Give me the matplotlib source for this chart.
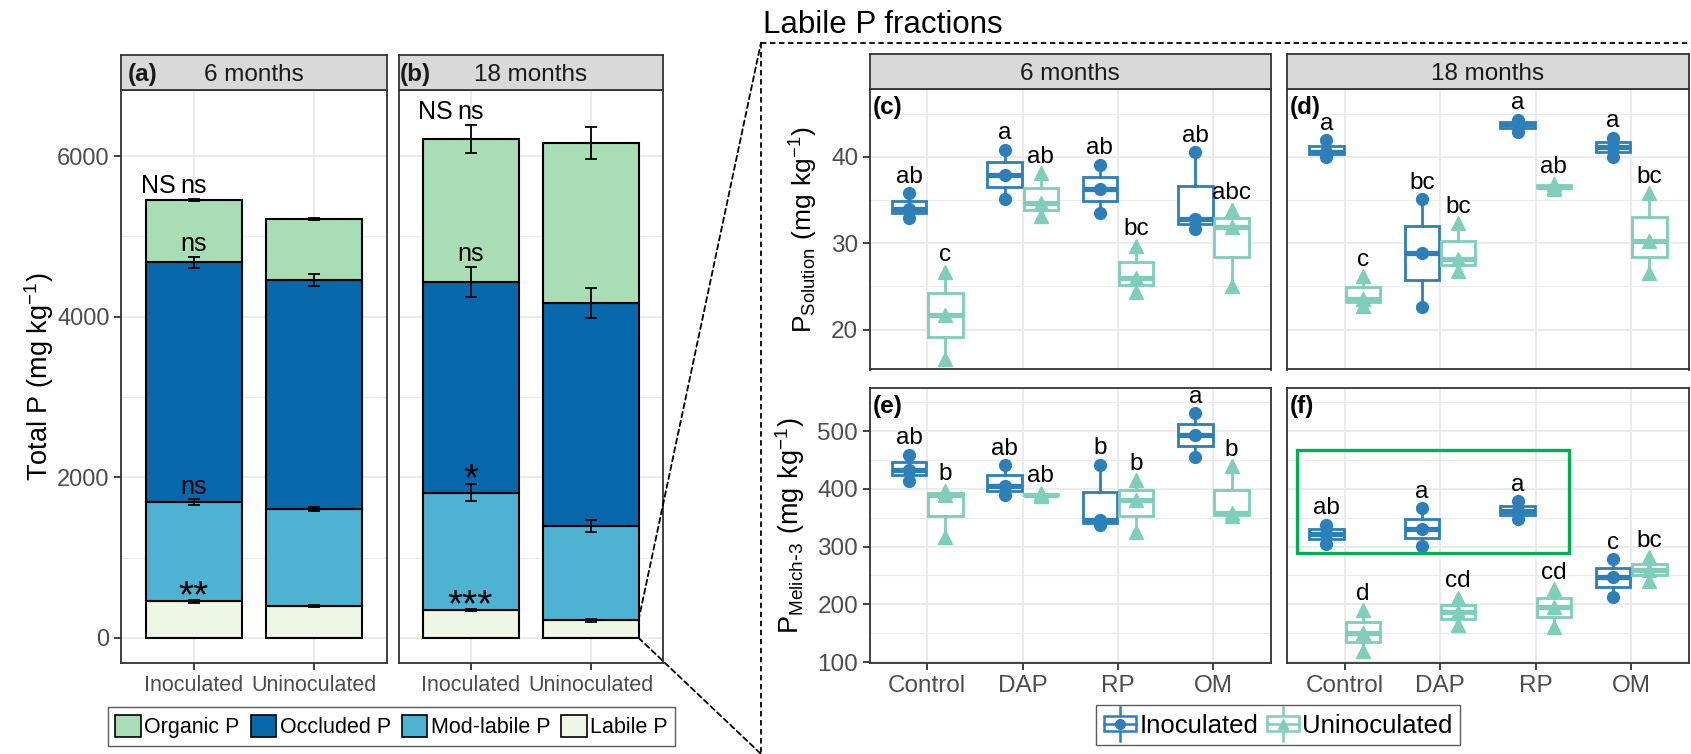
import matplotlib.pyplot as plt
from matplotlib.patches import Rectangle, Patch, ConnectionPatch
from matplotlib.lines import Line2D
from matplotlib.legend_handler import HandlerBase
from matplotlib.ticker import MultipleLocator

plt.rcParams['font.family'] = ['Liberation Sans', 'DejaVu Sans']
plt.rcParams['mathtext.default'] = 'regular'

# ---- total P fractions (mg/kg), Inoculated / Uninoculated ----
inoculation = ['Inoculated', 'Uninoculated']
fraction_names = ['Labile P', 'Mod-labile P', 'Occluded P', 'Organic P']
fraction_colors = ['#EEF7E3', '#4EB3D3', '#0868AC', '#A8DDB5']

labile_6 = [455, 395]
modlabile_6 = [1235, 1205]
occluded_6 = [2990, 2860]
organic_6 = [775, 760]
se_6 = [[15, 10], [35, 25], [70, 75], [15, 15]]
sig_6 = ['**', 'ns', 'ns', 'ns']

labile_18 = [345, 218]
modlabile_18 = [1465, 1170]
occluded_18 = [2625, 2780]
organic_18 = [1780, 1995]
se_18 = [[15, 15], [110, 75], [190, 185], [180, 200]]
sig_18 = ['***', '*', 'ns', 'ns']

# ---- labile P fractions, three replicates per treatment ----
treatments = ['Control', 'DAP', 'RP', 'OM']
sol_6_inoc = [[35.8, 34.0, 32.9], [40.8, 37.9, 35.1], [39.1, 36.3, 33.5], [40.5, 32.8, 31.6]]
sol_6_uninoc = [[26.7, 21.7, 16.6], [38.1, 34.6, 33.1], [29.7, 26.0, 24.4], [33.9, 31.9, 25.0]]
sol_18_inoc = [[41.9, 40.6, 40.0], [35.1, 28.9, 22.6], [44.3, 43.8, 42.9], [42.2, 41.1, 40.0]]
sol_18_uninoc = [[26.2, 23.6, 22.8], [32.3, 28.2, 26.8], [36.9, 36.5, 36.3], [35.8, 30.3, 26.6]]
mel_6_inoc = [[459, 433, 414], [441, 405, 389], [442, 346, 337], [531, 493, 455]]
mel_6_uninoc = [[397, 389, 316], [393, 390, 387], [415, 380, 326], [439, 358, 352]]
mel_18_inoc = [[338, 321, 304], [366, 330, 301], [378, 361, 348], [278, 248, 213]]
mel_18_uninoc = [[190, 150, 119], [211, 186, 164], [226, 195, 161], [281, 260, 240]]

let_sol_6_inoc = ['ab', 'a', 'ab', 'ab']
let_sol_6_uninoc = ['c', 'ab', 'bc', 'abc']
let_sol_18_inoc = ['a', 'bc', 'a', 'a']
let_sol_18_uninoc = ['c', 'bc', 'ab', 'bc']
let_mel_6_inoc = ['ab', 'ab', 'b', 'a']
let_mel_6_uninoc = ['b', 'ab', 'b', 'b']
let_mel_18_inoc = ['ab', 'a', 'a', 'c']
let_mel_18_uninoc = ['d', 'cd', 'cd', 'bc']

col_inoc = '#2C7FB8'
col_uninoc = '#7FCDBB'
highlight = (0.5, 288, 2.85, 179)   # x, y, width, height of the green frame in (f)

W, H = 1691, 754
fig = plt.figure(figsize=(W / 100, H / 100), dpi=100)


def add_panel(l, t, r, b):
    return fig.add_axes([l / W, 1 - b / H, (r - l) / W, (b - t) / H])


def theme_bw(ax, size=17.5):
    ax.set_facecolor('white')
    for sp in ax.spines.values():
        sp.set_color('#333333')
        sp.set_linewidth(1.3)
    ax.grid(True, which='major', color='#EBEBEB', lw=1.4)
    ax.grid(True, which='minor', axis='y', color='#EBEBEB', lw=0.8)
    ax.set_axisbelow(True)
    ax.tick_params(which='major', colors='#333333', labelcolor='#4D4D4D', length=5,
                   width=1.3, labelsize=size)
    ax.tick_params(which='minor', length=0)


def add_strip(ax, label, tag=None, tag_x=0.02):
    p = ax.get_position()
    s = fig.add_axes([p.x0, p.y1, p.width, 35 / H])
    s.set_facecolor('#D9D9D9')
    s.set_xticks([])
    s.set_yticks([])
    for sp in s.spines.values():
        sp.set_color('#333333')
        sp.set_linewidth(1.3)
    s.text(0.5, 0.45, label, ha='center', va='center', fontsize=17.5, color='#1A1A1A')
    if tag:
        s.text(tag_x, 0.45, tag, ha='left', va='center', fontsize=17.5,
               fontweight='bold', color='#1A1A1A')


# ---------------- stacked bars (a), (b) ----------------
ax_a = add_panel(121.4, 90.4, 386.6, 662.7)
ax_b = add_panel(398.5, 90.4, 662.5, 662.7)
x_bar = [1, 2]

for ax, parts, se, sig in [(ax_a, [labile_6, modlabile_6, occluded_6, organic_6], se_6, sig_6),
                           (ax_b, [labile_18, modlabile_18, occluded_18, organic_18], se_18, sig_18)]:
    theme_bw(ax, 15.5)
    ax.tick_params(axis='y', labelsize=17)
    bottom = [0, 0]
    for vals, col, err, s in zip(parts, fraction_colors, se, sig):
        ax.bar(x_bar, vals, width=0.8, bottom=bottom, color=col, edgecolor='black',
               linewidth=1.5, zorder=2)
        top = [b + v for b, v in zip(bottom, vals)]
        ax.errorbar(x_bar, top, yerr=err, fmt='none', ecolor='black', elinewidth=1.3,
                    capsize=4.5, capthick=1.3, zorder=3)
        big = '*' in s
        ax.annotate(s, (x_bar[0], top[0] + err[0]), xytext=(0, -5 if big else 4),
                    textcoords='offset points', ha='center', va='baseline',
                    fontsize=28 if big else 18, zorder=4)
        bottom = top
    # total P test above the inoculated bar
    ax.annotate('NS', (x_bar[0], bottom[0] + se[-1][0]), xytext=(-13, 4),
                textcoords='offset points', ha='right', va='baseline', fontsize=18)
    ax.set_xlim(0.4, 2.6)
    ax.set_ylim(-310, 6820)
    ax.set_xticks(x_bar)
    ax.set_xticklabels(inoculation)
    ax.yaxis.set_major_locator(MultipleLocator(2000))
    ax.yaxis.set_minor_locator(MultipleLocator(1000))

ax_a.set_ylabel('Total P (mg kg$^{-1}$)', fontsize=19.5)
ax_a.yaxis.set_label_coords(-0.247, 0.5)
ax_b.tick_params(axis='y', which='both', left=False, labelleft=False)
add_strip(ax_a, '6 months', '(a)', 0.025)
add_strip(ax_b, '18 months', '(b)', 0.005)

fig.legend(handles=[Patch(facecolor=c, edgecolor='black', lw=1.2, label=n)
                    for n, c in zip(fraction_names[::-1], fraction_colors[::-1])],
           loc='center', bbox_to_anchor=(391.5 / W, 1 - 726.5 / H), ncol=4,
           fontsize=15.5, frameon=True, fancybox=False, edgecolor='#333333',
           handlelength=1.2, handleheight=1.2, handletextpad=0.15, columnspacing=0.5,
           borderpad=0.35, borderaxespad=0)

# ---------------- box plots (c)-(f) ----------------
ax_c = add_panel(870, 89.3, 1270.7, 369.5)
ax_d = add_panel(1287.3, 89.3, 1688.5, 369.5)
ax_e = add_panel(870, 388.3, 1270.7, 662.7)
ax_f = add_panel(1287.3, 388.3, 1688.5, 662.7)
x_trt = [1, 2, 3, 4]
dodge = 0.19


def draw_boxes(ax, groups, letters, offset, color, marker, ms):
    pos = [x + offset for x in x_trt]
    ax.boxplot(groups, positions=pos, widths=0.36, whis=(0, 100), showcaps=False,
               showfliers=False, patch_artist=True, manage_ticks=False,
               boxprops=dict(facecolor='white', edgecolor=color, linewidth=2.0),
               whiskerprops=dict(color=color, linewidth=2.0),
               medianprops=dict(color=color, linewidth=3.8), zorder=2)
    for p, g, lab in zip(pos, groups, letters):
        ax.plot([p] * len(g), g, ls='none', marker=marker, color=color, ms=ms,
                mec=color, zorder=3)
        ax.annotate(lab, (p, max(g)), xytext=(0, 7.5), textcoords='offset points',
                    ha='center', va='baseline', fontsize=17.5, zorder=4)


panels = [(ax_c, sol_6_inoc, sol_6_uninoc, let_sol_6_inoc, let_sol_6_uninoc, '(c)'),
          (ax_d, sol_18_inoc, sol_18_uninoc, let_sol_18_inoc, let_sol_18_uninoc, '(d)'),
          (ax_e, mel_6_inoc, mel_6_uninoc, let_mel_6_inoc, let_mel_6_uninoc, '(e)'),
          (ax_f, mel_18_inoc, mel_18_uninoc, let_mel_18_inoc, let_mel_18_uninoc, '(f)')]

for ax, g_in, g_un, l_in, l_un, tag in panels:
    theme_bw(ax)
    draw_boxes(ax, g_in, l_in, -dodge, col_inoc, 'o', 8.5)
    draw_boxes(ax, g_un, l_un, dodge, col_uninoc, '^', 9.5)
    ax.set_xlim(0.4, 4.6)
    ax.set_xticks(x_trt)
    ax.set_xticklabels(treatments)
    ax.text(0.006, 0.975, tag, transform=ax.transAxes, ha='left', va='top',
            fontsize=17.5, fontweight='bold')

for ax in (ax_c, ax_d):
    ax.set_ylim(15.4, 47.8)
    ax.yaxis.set_major_locator(MultipleLocator(10))
    ax.yaxis.set_minor_locator(MultipleLocator(5))
    ax.tick_params(axis='x', which='both', bottom=False, labelbottom=False)
for ax in (ax_e, ax_f):
    ax.set_ylim(98.8, 574)
    ax.yaxis.set_major_locator(MultipleLocator(100))
    ax.yaxis.set_minor_locator(MultipleLocator(50))
for ax in (ax_d, ax_f):
    ax.tick_params(axis='y', which='both', left=False, labelleft=False)

ax_c.set_ylabel(r'$\mathregular{P_{Solution}\ (mg\ kg^{-1})}$', fontsize=19)
ax_c.yaxis.set_label_coords(-0.125, 0.5)
ax_e.set_ylabel(r'$\mathregular{P_{Melich\text{-}3}\ (mg\ kg^{-1})}$', fontsize=19.5)
ax_e.yaxis.set_label_coords(-0.158, 0.5)
add_strip(ax_c, '6 months')
add_strip(ax_d, '18 months')

ax_f.add_patch(Rectangle(highlight[:2], highlight[2], highlight[3], fill=False,
                         edgecolor='#00B050', lw=2.4, zorder=5))


class BoxHandler(HandlerBase):
    def create_artists(self, legend, orig_handle, xdescent, ydescent, width, height,
                       fontsize, trans):
        c = orig_handle.get_color()
        m = orig_handle.get_marker()
        cx, cy = width / 2 - xdescent, height / 2 - ydescent
        box = Rectangle((cx - width * 0.48, cy - height * 0.32), width * 0.96, height * 0.64,
                        facecolor='white', edgecolor=c, lw=1.8, transform=trans)
        whisk = Line2D([cx, cx], [cy - height * 0.75, cy + height * 0.75], color=c, lw=1.8,
                       transform=trans)
        med = Line2D([cx - width * 0.48, cx + width * 0.48], [cy, cy], color=c, lw=1.8,
                     transform=trans)
        dot = Line2D([cx], [cy], marker=m, color=c, ms=7, ls='none', transform=trans)
        return [whisk, box, med, dot]


fig.legend(handles=[Line2D([], [], color=col_inoc, marker='o', label='Inoculated'),
                    Line2D([], [], color=col_uninoc, marker='^', label='Uninoculated')],
           handler_map={Line2D: BoxHandler()}, loc='center',
           bbox_to_anchor=(1278 / W, 1 - 725 / H), ncol=2, fontsize=18.5, frameon=True,
           fancybox=False, edgecolor='#333333', handlelength=1.3, handleheight=1.0,
           handletextpad=0.1, columnspacing=0.3, borderpad=0.3, borderaxespad=0)

# ---------------- zoom box linking (b) to the labile panels ----------------
fig.text(763 / W, 1 - 33 / H, 'Labile P fractions', ha='left', va='baseline', fontsize=22.5)
corner = (761 / W, 1 - 42.7 / H)
dash = dict(color='black', lw=1.3, linestyle=(0, (3, 2)))
fig.add_artist(Line2D([corner[0], 1], [corner[1], corner[1]], transform=fig.transFigure, **dash))
fig.add_artist(Line2D([corner[0], corner[0]], [corner[1], 0], transform=fig.transFigure, **dash))
fig.add_artist(ConnectionPatch(xyA=(2.4, labile_18[1]), coordsA=ax_b.transData,
                               xyB=corner, coordsB=fig.transFigure, **dash))
fig.add_artist(ConnectionPatch(xyA=(2.4, 0), coordsA=ax_b.transData,
                               xyB=(corner[0], 0), coordsB=fig.transFigure, **dash))

fig.savefig('out.png', dpi=100)
